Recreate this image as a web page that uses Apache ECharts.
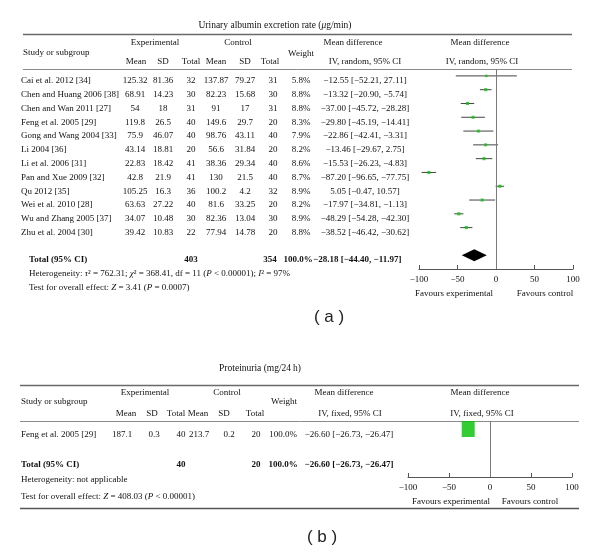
<!DOCTYPE html>
<html><head><meta charset="utf-8">
<script src="https://cdn.jsdelivr.net/npm/echarts@6/dist/echarts.min.js"></script>
<style>html,body{margin:0;padding:0;background:#fff}#c{width:600px;height:559px}</style>
</head><body><div id="c"></div>
<script>
// ---------- Panel (a): Urinary albumin excretion rate ----------
const studiesA = ["Cai et al. 2012 [34]","Chen and Huang 2006 [38]","Chen and Wan 2011 [27]","Feng et al. 2005 [29]","Gong and Wang 2004 [33]","Li 2004 [36]","Li et al. 2006 [31]","Pan and Xue 2009 [32]","Qu 2012 [35]","Wei et al. 2010 [28]","Wu and Zhang 2005 [37]","Zhu et al. 2004 [30]"];
const expMeanA = [125.32,68.91,54,119.8,75.9,43.14,22.83,42.8,105.25,63.63,34.07,39.42];
const expSdA   = [81.36,14.23,18,26.5,46.07,18.81,18.42,21.9,16.3,27.22,10.48,10.83];
const expNA    = [32,30,31,40,40,20,41,41,36,40,30,22];
const ctlMeanA = [137.87,82.23,91,149.6,98.76,56.6,38.36,130,100.2,81.6,82.36,77.94];
const ctlSdA   = [79.27,15.68,17,29.7,43.11,31.84,29.34,21.5,4.2,33.25,13.04,14.78];
const ctlNA    = [31,30,31,20,40,20,40,40,32,20,30,20];
const weightA  = [5.8,8.8,8.8,8.3,7.9,8.2,8.6,8.7,8.9,8.2,8.9,8.8];
const mdA      = [-12.55,-13.32,-37.00,-29.80,-22.86,-13.46,-15.53,-87.20,5.05,-17.97,-48.29,-38.52];
const loA      = [-52.21,-20.90,-45.72,-45.19,-42.41,-29.67,-26.23,-96.65,-0.47,-34.81,-54.28,-46.42];
const hiA      = [27.11,-5.74,-28.28,-14.41,-3.31,2.75,-4.83,-77.75,10.57,-1.13,-42.30,-30.62];
const totalEffectA = [-28.18,-44.40,-11.97];
const totalNA  = [403,354];
const totalWeightA = [100.0];

// ---------- Panel (b): Proteinuria ----------
const studiesB = ["Feng et al. 2005 [29]"];
const expMeanB = [187.1];
const expSdB   = [0.3];
const expNB    = [40];
const ctlMeanB = [213.7];
const ctlSdB   = [0.2];
const ctlNB    = [20];
const weightB  = [100.0];
const mdB      = [-26.60];
const loB      = [-26.73];
const hiB      = [-26.47];
const totalEffectB = [-26.60,-26.73,-26.47];
const totalNB  = [40,20];
const totalWeightB = [100.0];

const xTicks = [-100,-50,0,50,100];

// ---------- helpers ----------
const SERIF = '"Liberation Serif","Times New Roman",serif';
const FS = 9;
const TXT = '#111';
const minus = v => (v < 0 ? '\u2212' : '') + Math.abs(v);
const fmt2 = v => (v < 0 ? '\u2212' : '') + Math.abs(v).toFixed(2);
const ci = (m, l, h) => fmt2(m) + ' [' + fmt2(l) + ', ' + fmt2(h) + ']';
const pct = w => w.toFixed(1) + '%';

const chart = echarts.init(document.getElementById('c'), null, {renderer: 'canvas'});

function axisX(gridIndex) {
  return {
    gridIndex, type: 'value', min: xTicks[0], max: xTicks[xTicks.length - 1],
    interval: xTicks[1] - xTicks[0], position: 'bottom',
    axisLine: {show: true, onZero: false, lineStyle: {color: '#555', width: 1}},
    axisTick: {show: true, inside: true, length: 4, lineStyle: {color: '#555'}},
    axisLabel: {show: true, margin: 6, color: TXT, fontFamily: SERIF, fontSize: 9, formatter: v => minus(v)},
    splitLine: {show: false}
  };
}

function ciSeries(idx, lo, hi, rows) {
  return {
    type: 'custom', xAxisIndex: idx, yAxisIndex: idx, silent: true,
    data: lo.map((l, i) => [l, rows[i], hi[i]]),
    encode: {x: [0, 2], y: 1},
    renderItem: (params, api) => {
      const a = api.coord([api.value(0), api.value(1)]);
      const b = api.coord([api.value(2), api.value(1)]);
      return {type: 'line', shape: {x1: a[0], y1: a[1], x2: b[0], y2: b[1]},
              style: {stroke: '#444', lineWidth: 1}};
    }
  };
}

function diamondSeries(idx, eff, row) {
  return {
    type: 'custom', xAxisIndex: idx, yAxisIndex: idx, silent: true,
    data: [[eff[0], row, eff[1], eff[2]]],
    encode: {x: [0, 2, 3], y: 1},
    renderItem: (params, api) => {
      const c = api.coord([api.value(0), api.value(1)]);
      const l = api.coord([api.value(2), api.value(1)]);
      const r = api.coord([api.value(3), api.value(1)]);
      return {type: 'polygon', shape: {points: [l, [c[0], c[1] - 6], r, [c[0], c[1] + 6]]},
              style: {fill: '#000'}};
    }
  };
}

const rowsA = studiesA.map((s, i) => i);
const totalRowA = 13;
const rowsB = [0.143];

chart.setOption({
  animation: false,
  backgroundColor: '#fff',
  grid: [
    {left: 419, right: 27, top: 69, height: 200, containLabel: false},
    {left: 408, right: 28, top: 421, height: 56, containLabel: false}
  ],
  xAxis: [axisX(0), axisX(1)],
  yAxis: [
    {gridIndex: 0, type: 'value', min: -0.5, max: 14, inverse: true, show: false},
    {gridIndex: 1, type: 'value', min: 0, max: 1, inverse: true, show: false}
  ],
  series: [
    ciSeries(0, loA, hiA, rowsA),
    {
      type: 'scatter', xAxisIndex: 0, yAxisIndex: 0, silent: true,
      symbol: 'rect', symbolSize: v => Math.sqrt(v[2]) * 1.05,
      itemStyle: {color: '#12c012'},
      data: mdA.map((m, i) => [m, rowsA[i], weightA[i]]),
      markLine: {silent: true, symbol: ['none', 'none'], label: {show: false},
                 lineStyle: {color: '#7a7a7a', width: 1, type: 'solid'}, data: [{xAxis: 0}]}
    },
    diamondSeries(0, totalEffectA, totalRowA),
    ciSeries(1, loB, hiB, rowsB),
    {
      type: 'scatter', xAxisIndex: 1, yAxisIndex: 1, silent: true,
      symbol: 'rect', symbolSize: v => [Math.sqrt(v[2]) * 1.3, Math.sqrt(v[2]) * 1.6],
      itemStyle: {color: '#00c000'},
      data: mdB.map((m, i) => [m, rowsB[i], weightB[i]]),
      markLine: {silent: true, symbol: ['none', 'none'], label: {show: false},
                 lineStyle: {color: '#7a7a7a', width: 1, type: 'solid'}, data: [{xAxis: 0}]}
    }
  ]
});

// ---------- table text as graphic ----------
const G = [];
function T(x, y, text, align, opt) {
  opt = opt || {};
  G.push({type: 'text', silent: true, z: 10, style: Object.assign({
    x, y, text: String(text), textAlign: align || 'left', textVerticalAlign: 'middle',
    fill: TXT, font: (opt.bold ? 'bold ' : '') + (opt.size || FS) + 'px ' + SERIF,
    rich: {i: {fontStyle: 'italic', fontFamily: SERIF, fontSize: opt.size || FS, fontWeight: opt.bold ? 'bold' : 'normal', fill: TXT}}
  }, opt.style || {})});
}
function L(x1, y1, x2, y2, w, c) {
  G.push({type: 'line', silent: true, shape: {x1, y1, x2, y2}, style: {stroke: c || '#777', lineWidth: w || 1}});
}
const rowY = (g, v) => chart.convertToPixel({gridIndex: g}, [0, v])[1];

// Panel (a) layout
const colA = {name: 21, em: 135, es: 163, en: 191, cm: 216, cs: 245, cn: 273, w: 301, md: 365};
T(275, 25, 'Urinary albumin excretion rate ({i|\u03bc}g/min)', 'center', {size: 9.5});
L(23, 34.5, 572, 34.5, 1.6, '#6a6a6a');
T(155, 43, 'Experimental', 'center');
T(238, 43, 'Control', 'center');
T(23, 53, 'Study or subgroup', 'left');
T(301, 54, 'Weight', 'center');
T(136, 62, 'Mean', 'center'); T(163, 62, 'SD', 'center'); T(191, 62, 'Total', 'center');
T(216, 62, 'Mean', 'center'); T(245, 62, 'SD', 'center'); T(270, 62, 'Total', 'center');
T(353, 43, 'Mean difference', 'center');
T(365, 62, 'IV, random, 95% CI', 'center');
T(480, 43, 'Mean difference', 'center');
T(482, 62, 'IV, random, 95% CI', 'center');
L(23, 69.5, 572, 69.5, 1, '#8a8a8a');
studiesA.forEach((s, i) => {
  const y = rowY(0, rowsA[i]) + 5;
  T(colA.name, y, s, 'left');
  T(colA.em, y, expMeanA[i], 'center');
  T(colA.es, y, expSdA[i], 'center');
  T(colA.en, y, expNA[i], 'center');
  T(colA.cm, y, ctlMeanA[i], 'center');
  T(colA.cs, y, ctlSdA[i], 'center');
  T(colA.cn, y, ctlNA[i], 'center');
  T(colA.w, y, pct(weightA[i]), 'center');
  T(colA.md, y, ci(mdA[i], loA[i], hiA[i]), 'center');
});
const yTotA = rowY(0, totalRowA) + 4;
T(29, yTotA, 'Total (95% CI)', 'left', {bold: true});
T(colA.en, yTotA, totalNA[0], 'center', {bold: true});
T(270, yTotA, totalNA[1], 'center', {bold: true});
T(298, yTotA, pct(totalWeightA[0]), 'center', {bold: true});
T(313, yTotA, ci(totalEffectA[0], totalEffectA[1], totalEffectA[2]), 'left', {bold: true});
T(29, yTotA + 14, 'Heterogeneity: {i|\u03c4}\u00b2 = 762.31; {i|\u03c7}\u00b2 = 368.41, df = 11 ({i|P} < 0.00001); {i|I}\u00b2 = 97%', 'left');
T(29, yTotA + 28, 'Test for overall effect: {i|Z} = 3.41 ({i|P} = 0.0007)', 'left');
T(454, 294, 'Favours experimental', 'center');
T(545, 294, 'Favours control', 'center');
G.push({type: 'text', silent: true, style: {x: 329, y: 317, text: '( a )', textAlign: 'center', textVerticalAlign: 'middle', fill: '#222', font: '17px "Liberation Sans", Arial, sans-serif'}});

// Panel (b) layout
const colB = {name: 21, em: 122, es: 154, en: 181, cm: 199, cs: 229, cn: 256, w: 283, md: 349};
T(260, 368, 'Proteinuria (mg/24\u2009h)', 'center', {size: 9.5});
L(20, 385.5, 579, 385.5, 1.6, '#6a6a6a');
T(145, 393, 'Experimental', 'center');
T(227, 393, 'Control', 'center');
T(21, 402, 'Study or subgroup', 'left');
T(284, 402, 'Weight', 'center');
T(126, 414, 'Mean', 'center'); T(152, 414, 'SD', 'center'); T(176, 414, 'Total', 'center');
T(198, 414, 'Mean', 'center'); T(224, 414, 'SD', 'center'); T(255, 414, 'Total', 'center');
T(344, 393, 'Mean difference', 'center');
T(350, 414, 'IV, fixed, 95% CI', 'center');
T(480, 393, 'Mean difference', 'center');
T(482, 414, 'IV, fixed, 95% CI', 'center');
L(20, 421.5, 579, 421.5, 1, '#8a8a8a');
studiesB.forEach((s, i) => {
  const y = rowY(1, rowsB[i]) + 6;
  T(colB.name, y, s, 'left');
  T(colB.em, y, expMeanB[i], 'center');
  T(colB.es, y, expSdB[i], 'center');
  T(colB.en, y, expNB[i], 'center');
  T(colB.cm, y, ctlMeanB[i], 'center');
  T(colB.cs, y, ctlSdB[i], 'center');
  T(colB.cn, y, ctlNB[i], 'center');
  T(colB.w, y, pct(weightB[i]), 'center');
  T(colB.md, y, ci(mdB[i], loB[i], hiB[i]), 'center');
});
const yTotB = 465;
T(21, yTotB, 'Total (95% CI)', 'left', {bold: true});
T(colB.en, yTotB, totalNB[0], 'center', {bold: true});
T(colB.cn, yTotB, totalNB[1], 'center', {bold: true});
T(colB.w, yTotB, pct(totalWeightB[0]), 'center', {bold: true});
T(colB.md, yTotB, ci(totalEffectB[0], totalEffectB[1], totalEffectB[2]), 'center', {bold: true});
T(21, 480, 'Heterogeneity: not applicable', 'left');
T(21, 497, 'Test for overall effect: {i|Z} = 408.03 ({i|P} < 0.00001)', 'left');
T(451, 502, 'Favours experimental', 'center');
T(530, 502, 'Favours control', 'center');
L(20, 508.5, 579, 508.5, 1.6, '#555');
G.push({type: 'text', silent: true, style: {x: 322, y: 537, text: '( b )', textAlign: 'center', textVerticalAlign: 'middle', fill: '#222', font: '17px "Liberation Sans", Arial, sans-serif'}});

chart.setOption({graphic: G});
</script>
</body></html>
